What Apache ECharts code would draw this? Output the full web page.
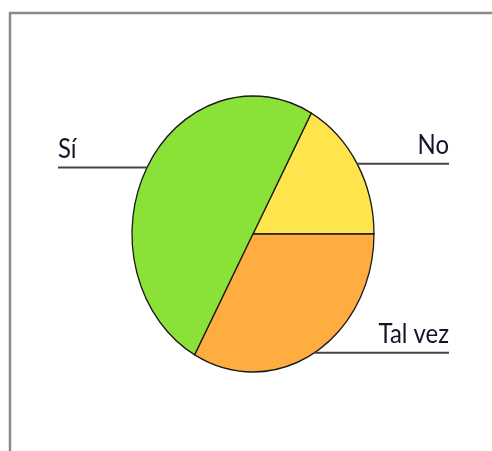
<!DOCTYPE html>
<html>
<head>
<meta charset="utf-8">
<script src="https://cdn.jsdelivr.net/npm/echarts@6/dist/echarts.min.js"></script>
<style>
  html, body { margin: 0; padding: 0; background: #fff; }
  #chart { width: 492px; height: 451px; }
</style>
</head>
<body>
<div id="chart"></div>
<script>
// slice order goes counter-clockwise from 3 o'clock
const categories = ['No', 'Sí', 'Tal vez'];
const values = [17, 50, 33];
const colors = ['#FFE54D', '#8AE238', '#FFAD40'];

const total = values.reduce((a, b) => a + b, 0);
const cx = 253, cy = 234, rx = 121, ry = 138;

function renderSlice (params, api) {
  const i = params.dataIndex;
  let before = 0;
  for (let j = 0; j < i; j++) before += values[j];
  const a0 = before / total * Math.PI * 2;
  const a1 = (before + api.value(0)) / total * Math.PI * 2;
  const mid = (a0 + a1) / 2;
  const ex = cx + rx * Math.cos(mid);
  const ey = cy - ry * Math.sin(mid);
  const right = Math.cos(mid) >= 0;
  const endX = right ? 449 : 58;
  return {
    type: 'group',
    children: [
      {
        type: 'sector',
        x: cx,
        y: cy,
        scaleY: ry / rx,
        shape: { cx: 0, cy: 0, r0: 0, r: rx, startAngle: -a1, endAngle: -a0, clockwise: true },
        style: { fill: colors[i], stroke: '#1a1a1a', lineWidth: 1.3 }
      },
      {
        type: 'line',
        shape: { x1: ex, y1: ey, x2: endX, y2: ey },
        style: { stroke: '#444', lineWidth: 2 }
      },
      {
        type: 'text',
        x: endX,
        y: ey - 5,
        scaleX: 0.92,
        style: {
          text: categories[i],
          fill: '#141428',
          fontSize: 26,
          fontFamily: 'Lato',
          align: right ? 'right' : 'left',
          verticalAlign: 'bottom'
        }
      }
    ]
  };
}

const myChart = echarts.init(document.getElementById('chart'));
myChart.setOption({
  animation: false,
  graphic: [
    {
      type: 'rect',
      shape: { x: 10, y: 13, width: 520, height: 480 },
      style: { fill: 'none', stroke: '#8a8a8a', lineWidth: 2.5 },
      z: 0
    }
  ],
  series: [
    {
      type: 'custom',
      coordinateSystem: 'none',
      renderItem: renderSlice,
      data: values.map(v => [v]),
      z: 2
    }
  ]
});
</script>
</body>
</html>
